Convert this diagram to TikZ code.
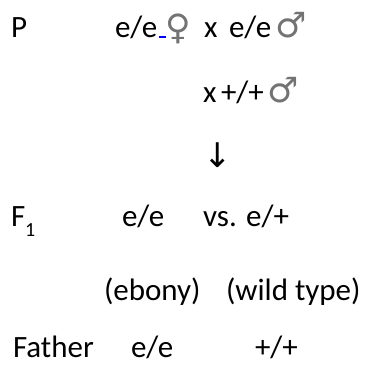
\documentclass[tikz,border=0pt]{standalone}
\usepackage{fontspec}
\setmainfont{Carlito}
\newfontfamily\symfont{DejaVu Sans}
\begin{document}
\begin{tikzpicture}[x=1pt,y=-1pt,
  txt/.style={anchor=base west,inner sep=0pt,outer sep=0pt,
    font=\fontsize{31}{37}\selectfont},
  sex/.style={anchor=base west,inner sep=0pt,outer sep=0pt,text=black!55,
    font=\symfont\fontsize{35}{40}\selectfont},
  arrowglyph/.style={anchor=base,inner sep=0pt,outer sep=0pt,
    font=\symfont\fontsize{34}{40}\selectfont}]
\useasboundingbox (0,0) rectangle (367,367);
% parental cross
\node[txt] (p)    at (11,37)  {P};
\node[txt] (pf)   at (115,37) {e/e};
\node[sex] (fem)  at (165,39) {♀};
\node[txt] (x1)   at (204,37) {x};
\node[txt] (pm)   at (229,37) {e/e};
\node[sex] (male1) at (275,37) {♂};
\draw[blue,line width=1.4pt] ([xshift=1.5pt]pf.base east) -- ++(7.5,0);
% second male
\node[txt] (x2)   at (203,102) {x};
\node[txt] (pm2)  at (221,102) {+/+};
\node[sex] (male2) at (267,102) {♂};
% downward arrow
\node[arrowglyph] (down) at (218,167) {↓};
% offspring
\node[txt] (f1)   at (11,226) {F\raisebox{-0.33em}{\fontsize{20}{24}\selectfont 1}};
\node[txt] (f1a)  at (122,226) {e/e};
\node[txt] (f1b)  at (203,226) {vs. e/+};
% phenotypes
\node[txt] (ph1)  at (104,300) {(ebony)};
\node[txt] (ph2)  at (226,300) {(wild type)};
% fathers
\node[txt] (fa)   at (13,357) {Father};
\node[txt] (faa)  at (131,357) {e/e};
\node[txt] (fab)  at (255,357) {+/+};
\end{tikzpicture}
\end{document}
